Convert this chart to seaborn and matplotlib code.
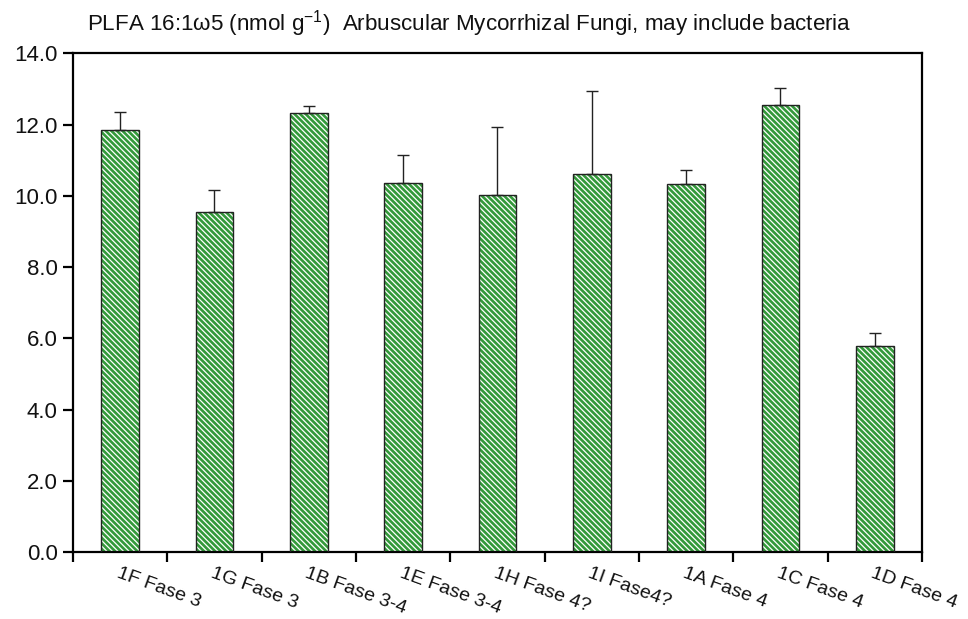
import matplotlib
matplotlib.use("Agg")
import matplotlib.pyplot as plt
import seaborn as sns
import pandas as pd
from matplotlib.patches import Rectangle

categories = ["1F Fase 3", "1G Fase 3", "1B Fase 3-4", "1E Fase 3-4", "1H Fase 4?",
              "1I Fase4?", "1A Fase 4", "1C Fase 4", "1D Fase 4"]
means = [11.84, 9.55, 12.31, 10.36, 10.02, 10.60, 10.34, 12.54, 5.79]
errors = [0.50, 0.62, 0.22, 0.78, 1.92, 2.35, 0.37, 0.49, 0.37]
y_ticks = [0, 2, 4, 6, 8, 10, 12, 14]

sns.set_theme(style="white")
plt.rcParams["font.family"] = ["Liberation Sans", "DejaVu Sans"]
plt.rcParams["hatch.linewidth"] = 0.9

df = pd.DataFrame({"sample": categories, "value": means})

fig = plt.figure(figsize=(9.68, 6.19), dpi=100)
ax = fig.add_axes([0.0754, 0.108, 0.877, 0.806])

sns.barplot(data=df, x="sample", y="value", ax=ax, color="#33993a",
            width=0.40, saturation=1, errorbar=None, linewidth=0,
            edgecolor="white")

# green fill with fine white diagonal stripes, then a dark outline on top
for p in ax.patches:
    p.set_facecolor("#33993a")
    p.set_hatch("\\" * 6)
    p.set_edgecolor("white")
    p.set_linewidth(0)
    ax.add_patch(Rectangle(p.get_xy(), p.get_width(), p.get_height(),
                           fill=False, edgecolor="#222222", linewidth=1.0,
                           zorder=3))

xs = range(len(categories))
ax.errorbar(xs, means, yerr=[[0] * len(errors), errors], fmt="none",
            ecolor="#222222", elinewidth=1.0, capsize=4, capthick=1.0, zorder=2)

ax.set_xlim(-0.5, len(categories) - 0.5)
ax.set_ylim(0, 14)
ax.set_yticks(y_ticks)
ax.set_yticklabels([f"{v:.1f}" for v in y_ticks], fontsize=16)
ax.set_xticks([i - 0.5 for i in range(len(categories) + 1)])
ax.set_xticklabels([])
for i, c in enumerate(categories):
    ax.text(i + 0.0, -0.36, c, rotation=-20, rotation_mode="anchor",
            ha="left", va="top", fontsize=14.0, color="#111111")

ax.set_xlabel("")
ax.set_ylabel("")
for s in ax.spines.values():
    s.set_color("black")
    s.set_linewidth(1.6)
ax.tick_params(axis="both", which="both", direction="out", length=7,
               width=1.6, color="black", left=True, bottom=True,
               labelcolor="#111111", pad=4)

fig.text(0.090, 0.962, "PLFA 16:1ω5 (nmol g$^{\\mathregular{-1}}$)  Arbuscular Mycorrhizal Fungi, may include bacteria",
         fontsize=16.1, ha="left", va="center", color="#111111")

fig.savefig("out.png", dpi=100)
